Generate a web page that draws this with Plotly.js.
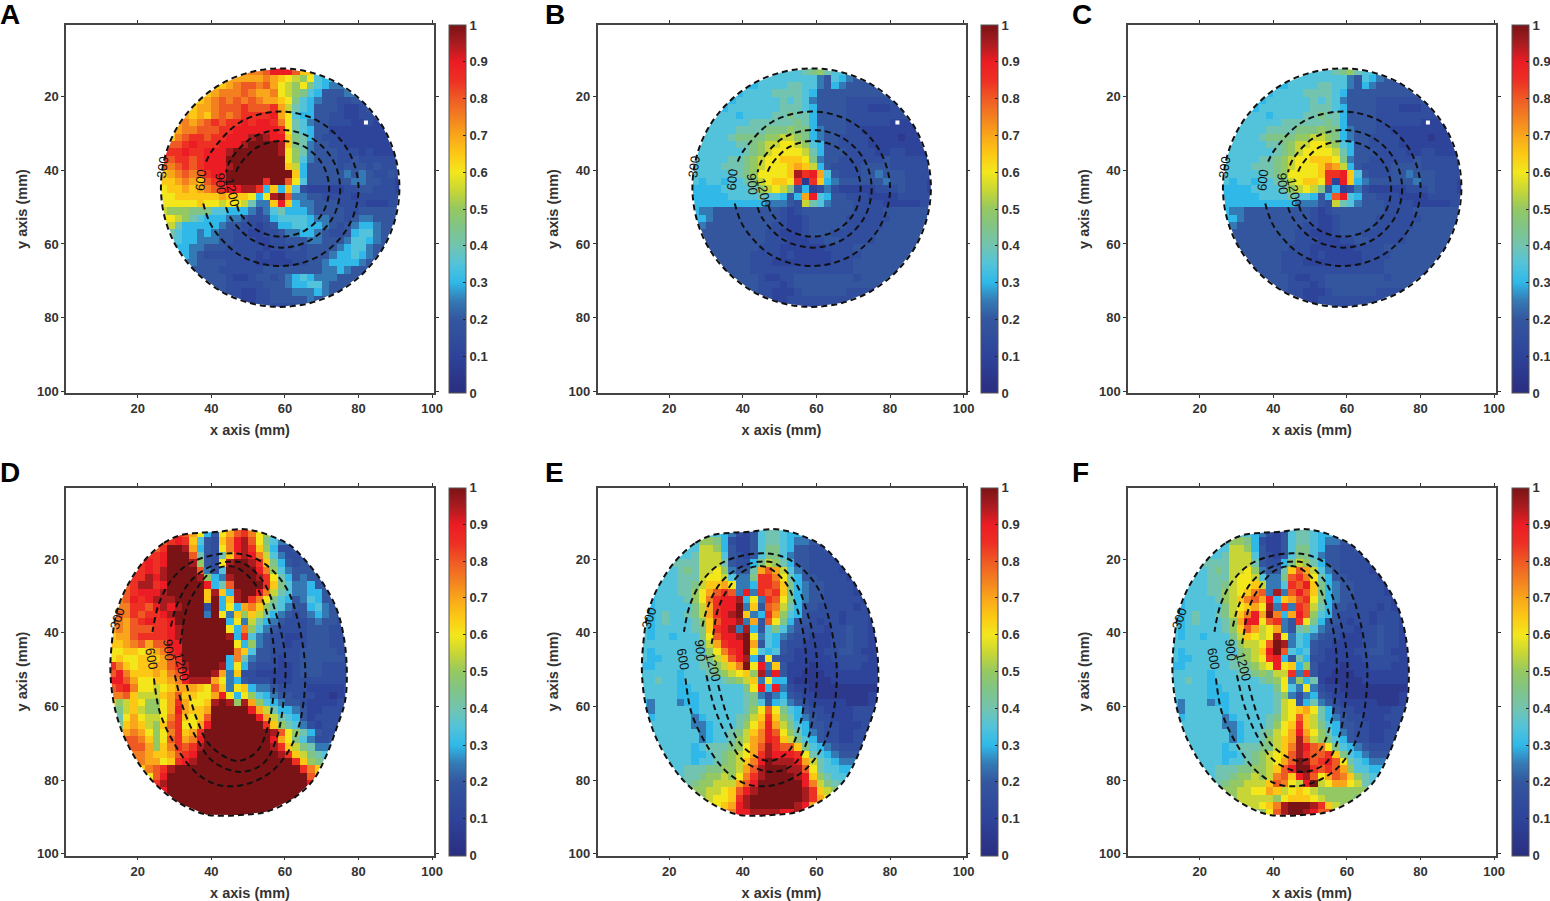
<!DOCTYPE html>
<html>
<head>
<meta charset="utf-8">
<script src="https://cdn.plot.ly/plotly-3.0.1.min.js"></script>
<style>body{margin:0;background:#fff}</style>
</head>
<body>
<div id="plot"></div>
<script>
// cell values, 2 mm cells, a=0 b=.05 ... u=1, dot = no data
var valueLetters = 'abcdefghijklmnopqrstu'

var xCircle = [27,29,31,33,35,37,39,41,43,45,47,49,51,53,55,57,59,61,63,65,67,69,71,73,75,77,79,81,83,85,87,89,91]
var yCircle = [13,15,17,19,21,23,25,27,29,31,33,35,37,39,41,43,45,47,49,51,53,55,57,59,61,63,65,67,69,71,73,75,77]
var xOval = [13,15,17,19,21,23,25,27,29,31,33,35,37,39,41,43,45,47,49,51,53,55,57,59,61,63,65,67,69,71,73,75,77]
var yOval = [13,15,17,19,21,23,25,27,29,31,33,35,37,39,41,43,45,47,49,51,53,55,57,59,61,63,65,67,69,71,73,75,77,79,81,83,85,87,89]

var rowsA = [
'.............pqsssqn',
'..........ooooponmlkmhg',
'........nopqqpqomlkmjhgff',
'......nopppqpoopmlkjhgeeef',
'.....nopqpqpqpoonmjhgfeeddee',
'....noopqqqrqqqrolihgeeedccde',
'...ononpqpqrrrrsomhggeeddccddd',
'..opopqrqrrsrssrpmihfeedddccdc',
'..oppqqqrrssssssrmihgeecccccccc',
'.npqrrqrrssstutssnjigeddccccccc',
'.qqrsrrrssstuuuutnjifeeddccccccc',
'rrrsrrssstuuuuuutmkifeeedddcdccc',
'rqrrqrsssuuuuuuuumkhfeeeddeddddd',
'qpqrqrssstuuuuuuunlgeeeedeeededdd',
'nopqpqrssuuuuuuuuungeeeeefefedded',
'nnoponqrsuuuuuruuqmheeeeeeffeeddc',
'mnnonopqrssttrgngnhdcccccddeedddc',
'mmnnnnnnonnnmgmtuqffeeddddcdddddd',
'mmmmmnmmlmmliffnsngffeeeddddcccdd',
'lkkkjjjhhgggfdfhigggfeeeeddeeeee',
'.mlkihgggffeddeghhhhgffeedeffeee',
'.ligggggfeeddcdegghhggfedefggfee',
'.ihggfgfeeddccddeffggfeddeghhfe',
'..hggfffeedddccddeeeffeeefhhgfe',
'..ggffeeedddddcdddedeeeefghhfe',
'...gfedddddddcdccdddeeefgghgfe',
'....feeeeddddcccccddeefggggfe',
'.....eeeddddddeeeeeeeeffgfee',
'......eeedccdeedefghgfffeee',
'.......eedddddeeefgghhfeee',
'........eddccddeeefffgfee',
'..........dccddeeeeefee',
'...............ddd'
]

var rowsB = [
'.............hhijkih',
'..........hhhhhhhfehgfe',
'........ghhhhiihhfegfeeee',
'......ghhhhiiiihgeeeeeeeee',
'.....ghhhhhhihihfeeeedddddde',
'....ghhhhhhhiiihgeeeedddcccdd',
'...hhhghhhhiijiigeeeeddddddddd',
'..hhhhhhiiiiiijigeeeeddddddccc',
'..hhhhiiiijjjkjjgfeeeddcccccccc',
'.hhhhijjjjkkllkjgfeeddddccccbcc',
'.hhhhhiijkllmmlkhgeeddddcccccccc',
'hhhhhhhijklmmmmligeeeddddccddccc',
'hhhhhiijklmmnnnmjfeeddddddeddddd',
'hhhhiiijklmmmnonlgeddddeeeedddddc',
'hhhhhhijkmmmmntrsohedddeefeeedddd',
'hghhghhijlmnnmrbrngfeeeeeefeedddc',
'gggghhhhiklmljegcdfdcccccdddedddc',
'ggggghhhhihhgegoshgeedddccccddddd',
'ggggggggggfffedlihfeeeddddcccccdd',
'gffeeeeeeeeedcdeeeeeeeddddeeeeee',
'.gfeeeeeeeeedccdeeeeeddddddeeeee',
'.feeeeeeeeeddccdeeeeedddddeeeeee',
'.eeeeeeeeeddcccdeeeddddddeeeeee',
'..eeeeeeeedddcccddeedddddeeeeee',
'..eeeeeeedddccccccddddeeeeeeee',
'...eeeeeddddcdcccccddddeeeeeee',
'....eeeedddccccccccdddeeeeeee',
'.....eeeddddddddddddddeeeeee',
'......eeedccddeeeeeeeedeeee',
'.......eedddcdeeeeeeeeeeee',
'........eddcccdeeeeeedddd',
'..........dccddddddddde',
'...............ddd'
]

var rowsC = [
'.............hhijkih',
'..........hhhhhhhfehgfe',
'........ghhhhiihhfegfeeee',
'......ghhhhiiiihgeeeeeeeee',
'.....ghhhhhhihihfeeeedddddde',
'....ghhhhhhhiiihgeeeedddcccdd',
'...hhhghhhhiijiigeeeeddddddddd',
'..hhhhhhiiiiiijigeeeeddddddccc',
'..hhhhiiiijjjkjjgfeeeddcccccccc',
'.hhhhijjjjkkllkjgfeeddddccccbcc',
'.hhhhhiijkllmmlkhgeeddddcccccccc',
'hhhhhhhijklmmmmligeeeddddccddccc',
'hhhhhiijklmmnnnmjfeeddddddeddddd',
'hhhhiiijklmmmnpolgeddddeeeedddddc',
'hhhhhhijkmmmmnrrsnhedddeefeeedddd',
'hghhghhijlmnnmrcsngfeeeeeefeedddc',
'gggghhhhiklmljegcdfdcccccdddedddc',
'ggggghhhhihhgegqshgeedddccccddddd',
'ggggggggggfffedlihfeeeddddcccccdd',
'gffeeeeeeeeedcdeeeeeeeddddeeeeee',
'.gfeeeeeeeeedccdeeeeeddddddeeeee',
'.feeeeeeeeeddccdeeeeedddddeeeeee',
'.eeeeeeeeeddcccdeeeddddddeeeeee',
'..eeeeeeeedddcccddeedddddeeeeee',
'..eeeeeeedddccccccddddeeeeeeee',
'...eeeeeddddcdcccccddddeeeeeee',
'....eeeedddccccccccdddeeeeeee',
'.....eeeddddddddddddddeeeeee',
'......eeedccddeeeeeeeedeeee',
'.......eedddcdeeeeeeeeeeee',
'........eddcccdeeeeeedddd',
'..........dccddddddddde',
'...............ddd'
]

var rowsD = [
'.........rqomgemoqrpmk',
'.......qrsrnhednpstqmjhf',
'......qruutogedmpstrnkgdde',
'.....rrsuuuqiedinrtsplhfddd',
'....rsrsuuutkedmtuutrnjgede',
'....rsrtuuuuqfdhuuuuspkhfeee',
'...rrtstuuuutkgftuuutrmigefee',
'..qrttrsuuuuusgiquuuurnjhffgee',
'..qrssstuuuuuntngtuusplihffgge',
'.pqsrstttuuuunugnturpmjhgefhgee',
'.pprrqststuuudugmgopnkihfeeghfe',
'.qprqrrstuuuufumfnknligfedefgfed',
'.poqrsrrsuuuuuuugmfligfedddefeed',
'opoqqqrrstuuuuuumgpkhfeddddeeedd',
'nooqrrrrstuuuuuutgrhfeddccdeeedd',
'nnopqoqqssuuuuuuumgkfeddcddeeeddc',
'mmnnmnoprsuuuuuuupnheeddddeeeeedd',
'mnmmnnnoqruuuuuugpifeedcddeeeeeed',
'rpnmnnooqrtuuuutgmgedddccdeeedddd',
'qspnnnonpqsuuutofnddcccccdeeedddd',
'ssqommnnopstttomfgedddcccdddddddd',
'qrspmmlmnooonmqnfmngffeddddcccccd',
'ppqnlllnoqnnmmosmgmkhgfeedddccbcd',
'nklnmkkmorommntutktokhgfeedccccdd',
'.jlnlkkmosonnouuuuusoliggfeccdddd',
'.imomllmprnmnquuuuuusolihgecdddd',
'.jnonlknqrmmosuuuuuuurnkihfdcddd',
'..opomkmprnoruuuuuuuuutqmkigedddd',
'..qqpnkmqropsuuuuuuuuusomjhfdde',
'...qqoknprqrtuuuuuuuuutrnljiffg',
'...pponnoqrsuuuuuuuuuuutrnljih',
'....poomnrstuuuuuuuuuuuuurnkji',
'....npqrtuuuuuuuuuuuuuuuuurpn',
'.....mqsuuuuuuuuuuuuuuuuuuuqn',
'......rtuuuuuuuuuuuuuuuuuuus',
'.......suuuuuuuuuuuuuuuuuuu',
'........uuuuuuuuuuuuuuuuuu',
'..........uuuuuuuuuuuuuu',
'............uuuuuuuuu'
]

var rowsE = [
'.........hhgfdcehiihgg',
'.......hkkjgdccehiihgffe',
'......hhllkgeccehjjhgeedde',
'.....hhilllhedcehjjhfeedddd',
'....iiiilllieddgjlkigeedddd',
'....hijillmkfeeioqolhfeddddc',
'...hhiiilmmlhffjrrpmigeeddddc',
'..hhhiijlnnomffgrrqnjgfeeddddc',
'..hhhiikmoqrqfsfrqrnjgfeeddddc',
'.ghhhhikmprsstgmfrqmjgfeedddddc',
'.ghhhhhjlorssufneqpligeedddddcdc',
'.ghihhijlorstunfgrokhgeddddcdddc',
'.ghihhhiknqsstfoeqmjgeedcddcdddc',
'hghhhhhijnrstftgehjhfedddcddeddc',
'hghhghhhjmqsstumfhgfeddcccddeddc',
'hhhhhhhhilorssuoehgeddccccddeddcc',
'hghhhhhhhkmprsumhghedccccddeedcc',
'hgghhhhhijlnqstgdmeddcccccdddddcc',
'gghhhhhhiiklnpumsfnecccbcccdddccc',
'hhhhhghhhijklmnkteseccbbbcccccccc',
'hhihhghhhhhijklnfmggcbbbbbccccccc',
'hhhhhgghhhhhhhjmsgsfdccbbbbbbbbbb',
'hhhhhggghhhhhhijfdfgedccbbbbbbbcc',
'gfhhhfgghhhhhhijheghfedcccccbbbcd',
'.fhhhhhghhhhhhikmqmjhgeddccccdddd',
'.ghhhhhfghhhhijlnrnkigfeddcccddd',
'.hhhhhhffghhhikmosoljhgeeddcccdd',
'..hhhhhhfghhijlnpsqmkigfeddccddd',
'..hhhhhhfghhiklopsrnljhgeddccdd',
'...hhhhghiiijkmoqtrqqnjhgfeddde',
'...hhhhgghijklmortsssrmihgfeee',
'....hhhghhijklnpsutttsolihgfff',
'....hhiiijjkkloqtuuuttqmihhgg',
'.....hiijkklkmprtuuuutsnkihhg',
'......ijkkllloqsuuuuuuspljih',
'.......kkllmnqstuuuuuutrnlk',
'........klmmnrtuuuuuuutrom',
'..........mnostuuuuuutso',
'............psstttts'
]

var rowsF = [
'.........hhgfdcehiihgg',
'.......hkkjgdccehiihgffe',
'......hhllkgeccehjjhgeedde',
'.....hhilllhedcehjjhfeedddd',
'....iiiilllieddgjlkigeedddd',
'....hijillmkfeeinqolhfeddddc',
'...hhiiilmmlhffjqrpmigeeddddc',
'..hhhiijlmmnlffhrqsnjgfeeddddc',
'..hhhiiklmnpqftfqsqnjgfeeddddc',
'.ghhhhiklnpqosgnoqrmjgfeedddddc',
'.ghhhhhjlmnomtfrfrqligeeddddcdc',
'.ghihhijlnpsoupgosqkhgeddddcdddc',
'.ghihhhikossmqrfermjgeedcddcdddc',
'hghhhhhiknqolmofeijhfedddcddeddc',
'hghhghhhjlnmlmtmfhgfeddcccddeddc',
'hhhhhhhhikllmqutfhgeddccccddeddcc',
'hghhhhhhhjklnsuqhghedccccddeedcc',
'hgghhhhhijklmrsgeigddcccccdddddcc',
'gghhhhhhiijklmsmngkecccbcccdddccc',
'hhhhhghhhiijkjllrfreccbbbcccccccc',
'hhihhghhhhhhijkmfkgicbbbbbccccccc',
'hhhhhgghhhhhhhjmhfmfdccbbbbbbbbbb',
'hhhhhggghhhhhhikfdfgedccbbbbbbbcc',
'gfhhhfgghhhhhhilmegifedcccccbbbcd',
'.fhhhhhghhhhhhilmnomigeddcccccddd',
'.ghhhhhfghhhhijlmqnligfeddcccddd',
'.hhhhhhffghhhikmnrnljhgeeddcccdd',
'..hhhhhhfghhijlmosomkigfeddccddd',
'..hhhhhhfghhiklnotplkjhgeddccdd',
'...hhhhghiiijjlnptsqpmjhgfeddde',
'...hhhhgghijklmnqtrqqrnjhgfeee',
'....hhhghhijklmoqutqrsqmihgfff',
'....hhiiijjkklnqsuurqrqokhhgg',
'.....hiijkklklpqnstqmoqpnkihg',
'......ijkklllnqpmlsulmoomlih',
'.......kkllmmonlmnmlkkkkkkk',
'........klllllkmnnnmlkkkkj',
'..........llmnptuuutrnlk',
'............kmqtuutsq'
]

// dashed curves
var ringX = [91.1,90,86.8,81.6,74.9,67.1,58.7,50.3,42.5,35.8,30.6,27.4,26.3,27.4,30.6,35.8,42.5,50.3,58.7,67.1,74.9,81.6,86.8,90,91.1]
var ringY = [44.7,36.3,28.5,21.8,16.6,13.4,12.3,13.4,16.6,21.8,28.5,36.3,44.7,53.1,60.9,67.6,72.8,76,77.1,76,72.8,67.6,60.9,53.1,44.7]
var c600X = [37.8,40.3,48,58.7,69.4,77.1,80,77.1,69.4,58.7,48,40.3,38.6]
var c600Y = [49,55.5,63.2,66,63.2,55.5,45,34.5,26.8,24,26.8,34.5,37.6]
var c900X = [44,45.3,51.1,59.1,67,72.9,75,72.9,67,59.1,51.1,45.3,44]
var c900Y = [50,53,58.9,61,58.9,53,45,37,31.1,29,31.1,37,40.5]
var c1200X = [47,47.7,52.5,59,65.5,70.3,72,70.3,65.5,59,52.5,47.7,46.5]
var c1200Y = [49.5,51.5,56.3,58,56.3,51.5,45,38.5,33.7,32,33.7,38.5,41]

// runs the other way round than ringX so the mask keeps its hole
var ovalX = [31.5,26.9,21.5,17,14.3,12.9,12.6,13.8,16.5,20.6,25.1,31.5,38.7,47.8,55,62.3,67.7,71.3,74,76.3,76.8,75.9,74,70.4,65.9,61.4,56.8,52.3,47.8,42.3,36.9,31.5]
var ovalY = [13.5,15.7,20.7,27.5,34.3,43.3,51.5,60.6,68.7,76,81.4,86.4,89.4,89.5,88.6,85,80,73.2,66,58.7,49.7,40.6,33.4,26.6,20.7,16.2,13.9,12.4,11.8,12.5,12.8,13.5]
var o600X = [24.4,26,29.7,35.1,40.5,46,51.4,56.8,61.4,64.1,65.4,65.4,63.6,60.5,55,49.6,45.1,38.7,33.3,28.8,25.6,24]
var o600Y = [52.4,61.6,69.7,77.3,80.9,81.7,80.5,77.3,71.4,64.2,55.1,47.9,37,28,21.6,18.9,18.4,19.3,21.6,26.1,32.5,39.7]
var o900X = [30.1,32.4,36,40.5,47.8,54.1,57.7,59.7,60,57.7,54.1,48.7,44.2,38.7,34.2,30.6,28.9]
var o900Y = [51.5,60.6,68.7,75,77.8,75.5,68.7,57.8,46,35.2,26.1,21.1,20.7,22.5,26.1,32.5,38.8]
var o1200X = [33.3,36,39.6,46.9,52.3,55.5,57,57,55,51.4,46,40.5,36,33.3,31.9,31.5]
var o1200Y = [54.2,63.3,70.5,74.8,72.3,65,55.1,44.2,34.3,26.1,22,23,28,33.4,40.7,43]

var contourLabels = ['300','600','900','1200']
var circleLabelX = [26.6,37.2,42.4,45.6]
var circleLabelY = [39.1,42.6,43.7,46.1]
var circleLabelAngle = [-82,-85,85,78]
var ovalLabelX = [14.4,23.6,28.5,32]
var ovalLabelY = [36,47.1,44.7,49.3]
var ovalLabelAngle = [-72,80,85,76]

var cbTicks = [0,0.1,0.2,0.3,0.4,0.5,0.6,0.7,0.8,0.9,1]
var cbText = ['0','0.1','0.2','0.3','0.4','0.5','0.6','0.7','0.8','0.9','1']
var axisTicks = [20,40,60,80,100]

var jetish = [[0,'#2a2e80'],[0.1,'#2e439a'],[0.2,'#33569f'],[0.25,'#3579b4'],[0.3,'#2fb8e8'],[0.35,'#52c3da'],[0.4,'#72c4b0'],
	[0.45,'#80c488'],[0.5,'#94c862'],[0.55,'#c7d636'],[0.6,'#f3e71c'],[0.65,'#fcc815'],[0.7,'#f9a61a'],[0.75,'#f37f21'],
	[0.8,'#ef5a24'],[0.85,'#ed2f24'],[0.9,'#ec1c24'],[0.95,'#a81c20'],[1,'#7a1315']]

var tickFont = {family: 'Liberation Sans', size: 13, color: '#333', weight: 'bold'}
var titleFont = {family: 'Liberation Sans', size: 14.5, color: '#333', weight: 'bold'}

// rows to z, blank cells touching a value take it so the white mask gives the clean edge
function decode(rows, width) {
	var z = rows.map(function(r) {
		var out = []
		for (var i = 0; i < width; i++) {
			var k = i < r.length ? valueLetters.indexOf(r[i]) : -1
			out.push(k < 0 ? null : k / 20)
		}
		return out
	})
	return z.map(function(row, j) {
		return row.map(function(v, i) {
			if (v !== null) return v
			var near = [row[i - 1], row[i + 1], z[j - 1] ? z[j - 1][i] : null, z[j + 1] ? z[j + 1][i] : null]
			var hit = near.filter(function(n) { return n !== null && n !== undefined })
			return hit.length ? hit[0] : null
		})
	})
}

// white area between the frame and the outline
function maskTrace(rx, ry, xa, ya) {
	var x0 = rx[0]
	return {
		type:'scatter', mode:'none', xaxis:xa, yaxis:ya, hoverinfo:'skip', fill:'toself', fillcolor:'#fff',
		x:[x0,100.5,100.5,0.5,0.5,x0].concat(rx, [x0]),
		y:[0.5,0.5,100.5,100.5,0.5,0.5].concat(ry, [0.5])
	}
}

var panels = [
	{name:'A', rows:rowsA, left:66, top:25, letterX:-2, letterY:15, round:true},
	{name:'B', rows:rowsB, left:597.5, top:25, letterX:543, letterY:15, round:true},
	{name:'C', rows:rowsC, left:1128, top:25, letterX:1070, letterY:15, round:true},
	{name:'D', rows:rowsD, left:66, top:487.5, letterX:-2, letterY:472, round:false},
	{name:'E', rows:rowsE, left:597.5, top:487.5, letterX:543, letterY:472, round:false},
	{name:'F', rows:rowsF, left:1128, top:487.5, letterX:1070, letterY:472, round:false}
]

var W = 1550, H = 901, S = 368
var data = []
var layout = {width:W, height:H, margin:{l:0,r:0,t:0,b:0,autoexpand:false}, showlegend:false, paper_bgcolor:'#fff', plot_bgcolor:'#fff', annotations:[]}

panels.forEach(function(p, n) {
	var id = n ? String(n + 1) : ''
	var xa = 'x' + id, ya = 'y' + id
	var xs = p.round ? xCircle : xOval
	var ys = p.round ? yCircle : yOval

	data.push({
		type:'heatmap', x:xs, y:ys, z:decode(p.rows, xs.length), xaxis:xa, yaxis:ya,
		zmin:0, zmax:1, colorscale:jetish, hoverinfo:'skip', zsmooth:false,
		colorbar:{
			x:(p.left + S + 15.5) / W, xanchor:'left', xpad:0, ypad:0,
			y:1 - p.top / H, yanchor:'top', len:S, lenmode:'pixels', thickness:17, thicknessmode:'pixels',
			tickvals:cbTicks, ticktext:cbText, ticks:'inside', ticklen:3, tickcolor:'#222',
			tickfont:tickFont, outlinecolor:'#555', outlinewidth:1
		}
	})

	data.push(p.round ? maskTrace(ringX, ringY, xa, ya) : maskTrace(ovalX, ovalY, xa, ya))

	var curves = p.round ?
		[[ringX,ringY],[c600X,c600Y],[c900X,c900Y],[c1200X,c1200Y]] :
		[[ovalX,ovalY],[o600X,o600Y],[o900X,o900Y],[o1200X,o1200Y]]
	curves.forEach(function(c) {
		data.push({
			type:'scatter', mode:'lines', x:c[0], y:c[1], xaxis:xa, yaxis:ya, hoverinfo:'skip',
			line:{color:'#111', width:2, dash:'6px,4px', shape:'spline', smoothing:1}
		})
	})
	if (p.round) {
		data.push({type:'scatter', mode:'markers', x:[82], y:[27], xaxis:xa, yaxis:ya, hoverinfo:'skip',
			marker:{symbol:'square', size:4, color:'#fff'}})
	}

	var ax = {
		range:[0.5,100.5], tickvals:axisTicks, ticks:'outside', ticklen:3, tickcolor:'#333',
		showline:true, mirror:'ticks', linecolor:'#444', linewidth:1.5, showgrid:false, zeroline:false,
		tickfont:tickFont, automargin:false
	}
	layout['xaxis' + id] = Object.assign({}, ax, {
		domain:[p.left / W, (p.left + S) / W], anchor:ya,
		title:{text:'x axis (mm)', font:titleFont, standoff:10}
	})
	layout['yaxis' + id] = Object.assign({}, ax, {
		domain:[1 - (p.top + S) / H, 1 - p.top / H], anchor:xa, range:[100.5,0.5],
		title:{text:'y axis (mm)', font:titleFont, standoff:6}
	})

	var lx = p.round ? circleLabelX : ovalLabelX
	var ly = p.round ? circleLabelY : ovalLabelY
	var la = p.round ? circleLabelAngle : ovalLabelAngle
	contourLabels.forEach(function(t, i) {
		layout.annotations.push({
			text:t, x:lx[i], y:ly[i], xref:xa, yref:ya, showarrow:false, textangle:la[i],
			font:{family:'Liberation Sans', size:13, color:'#111'}
		})
	})
	layout.annotations.push({
		text:p.name, xref:'paper', yref:'paper', x:p.letterX / W, y:1 - p.letterY / H, xanchor:'left', yanchor:'middle',
		showarrow:false, font:{family:'Liberation Sans', size:28, color:'#000', weight:'bold'}
	})
})

Plotly.newPlot('plot', data, layout, {displayModeBar:false})
</script>
</body>
</html>
